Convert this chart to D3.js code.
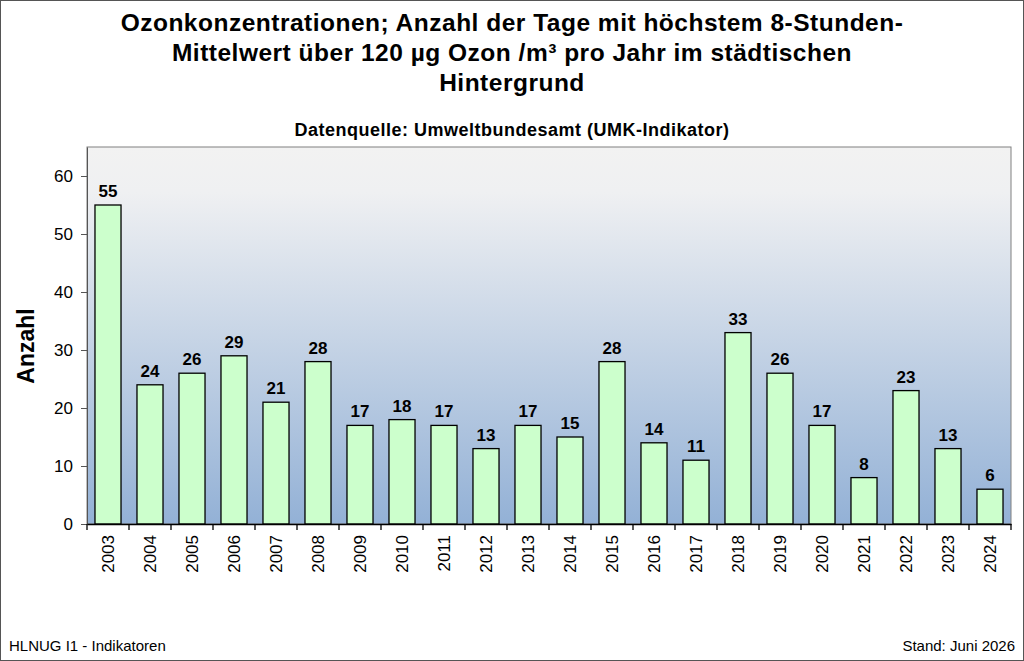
<!DOCTYPE html>
<html>
<head>
<meta charset="utf-8">
<script src="https://cdn.jsdelivr.net/npm/d3@7"></script>
<style>
  body { margin: 0; background: #fff; }
  text { font-family: "Liberation Sans", Arial, sans-serif; }
</style>
</head>
<body>
<div id="chart"></div>
<script>
// data
const years = ["2003","2004","2005","2006","2007","2008","2009","2010","2011","2012","2013",
               "2014","2015","2016","2017","2018","2019","2020","2021","2022","2023","2024"];
const tage = [55, 24, 26, 29, 21, 28, 17, 18, 17, 13, 17, 15, 28, 14, 11, 33, 26, 17, 8, 23, 13, 6];
const yTicks = [0, 10, 20, 30, 40, 50, 60];
const titleLines = [
  "Ozonkonzentrationen; Anzahl der Tage mit höchstem 8-Stunden-",
  "Mittelwert über 120 µg Ozon /m³ pro Jahr im städtischen",
  "Hintergrund"
];

const svgWidth = 1024;
const svgHeight = 661;
const margin = { top: 147, right: 13, bottom: 137, left: 87 };
const width = svgWidth - margin.left - margin.right;
const height = svgHeight - margin.top - margin.bottom;

const svg = d3.select("#chart")
    .append("svg")
    .attr("width", svgWidth)
    .attr("height", svgHeight);

// outer frame
svg.append("rect")
    .attr("x", 0.5).attr("y", 0.5)
    .attr("width", svgWidth - 1).attr("height", svgHeight - 1)
    .attr("fill", "#fff")
    .attr("stroke", "#555");

// title
svg.append("text")
    .attr("text-anchor", "middle")
    .attr("font-size", 24.5)
    .attr("font-weight", "bold")
    .attr("letter-spacing", 0.5)
    .selectAll("tspan")
    .data(titleLines)
    .join("tspan")
    .attr("x", 512)
    .attr("y", (d, i) => 31 + i * 30)
    .text(d => d);

svg.append("text")
    .attr("x", 512).attr("y", 136)
    .attr("text-anchor", "middle")
    .attr("font-size", 18)
    .attr("font-weight", "bold")
    .attr("letter-spacing", 0.5)
    .text("Datenquelle: Umweltbundesamt (UMK-Indikator)");

const defs = svg.append("defs");
const grad = defs.append("linearGradient")
    .attr("id", "bg")
    .attr("x1", 0).attr("y1", 0).attr("x2", 0).attr("y2", 1);
grad.append("stop").attr("offset", "0%").attr("stop-color", "#f2f2f2");
grad.append("stop").attr("offset", "12%").attr("stop-color", "#eff0f2");
grad.append("stop").attr("offset", "100%").attr("stop-color", "#93b1d6");

const chart = svg.append("g")
    .attr("transform", `translate(${margin.left},${margin.top})`);

const x = d3.scaleBand()
    .domain(years)
    .range([0, width])
    .paddingInner(0.38)
    .paddingOuter(0.19);

const y = d3.scaleLinear()
    .domain([0, 65])
    .range([height, 0]);

chart.append("rect")
    .attr("width", width)
    .attr("height", height)
    .attr("fill", "url(#bg)")
    .attr("stroke", "#808080");

chart.selectAll(".bar")
    .data(tage)
    .join("rect")
    .attr("class", "bar")
    .attr("x", (d, i) => x(years[i]))
    .attr("y", d => y(d))
    .attr("width", x.bandwidth())
    .attr("height", d => height - y(d))
    .attr("fill", "#ccffcc")
    .attr("stroke", "#000")
    .attr("stroke-width", 1.3);

chart.selectAll(".val")
    .data(tage)
    .join("text")
    .attr("class", "val")
    .attr("x", (d, i) => x(years[i]) + x.bandwidth() / 2)
    .attr("y", d => y(d) - 8)
    .attr("text-anchor", "middle")
    .attr("font-size", 17)
    .attr("font-weight", "bold")
    .text(d => d);

// y axis
const yAxis = chart.append("g")
    .call(d3.axisLeft(y).tickValues(yTicks).tickSize(6).tickSizeOuter(0).tickPadding(8));
yAxis.select(".domain").attr("stroke", "#555");
yAxis.selectAll(".tick line").attr("stroke", "#555");
yAxis.selectAll(".tick text").attr("font-size", 17).attr("fill", "#000")
    .attr("font-family", "Liberation Sans, Arial, sans-serif");

// x axis: ticks at category boundaries
const xAxis = chart.append("g")
    .attr("transform", `translate(0,${height})`)
    .call(d3.axisBottom(x).tickSize(0).tickPadding(0));
xAxis.select(".domain").attr("stroke", "#000").attr("stroke-width", 1.3);
xAxis.selectAll(".tick text")
    .attr("font-size", 17)
    .attr("fill", "#000")
    .attr("font-family", "Liberation Sans, Arial, sans-serif")
    .attr("text-anchor", "end")
    .attr("dy", "0.35em")
    .attr("transform", "translate(0,11) rotate(-90)");

const step = x.step();
chart.append("g")
    .selectAll("line")
    .data(d3.range(years.length + 1))
    .join("line")
    .attr("x1", i => i * step)
    .attr("x2", i => i * step)
    .attr("y1", height)
    .attr("y2", height + 6)
    .attr("stroke", "#000")
    .attr("stroke-width", 1.3);

// y axis title
svg.append("text")
    .attr("transform", "translate(34,346) rotate(-90)")
    .attr("text-anchor", "middle")
    .attr("font-size", 23)
    .attr("font-weight", "bold")
    .text("Anzahl");

// footer
svg.append("text")
    .attr("x", 9).attr("y", 651)
    .attr("font-size", 15)
    .text("HLNUG I1 - Indikatoren");

svg.append("text")
    .attr("x", 1015).attr("y", 651)
    .attr("text-anchor", "end")
    .attr("font-size", 15)
    .text("Stand: Juni 2026");
</script>
</body>
</html>
